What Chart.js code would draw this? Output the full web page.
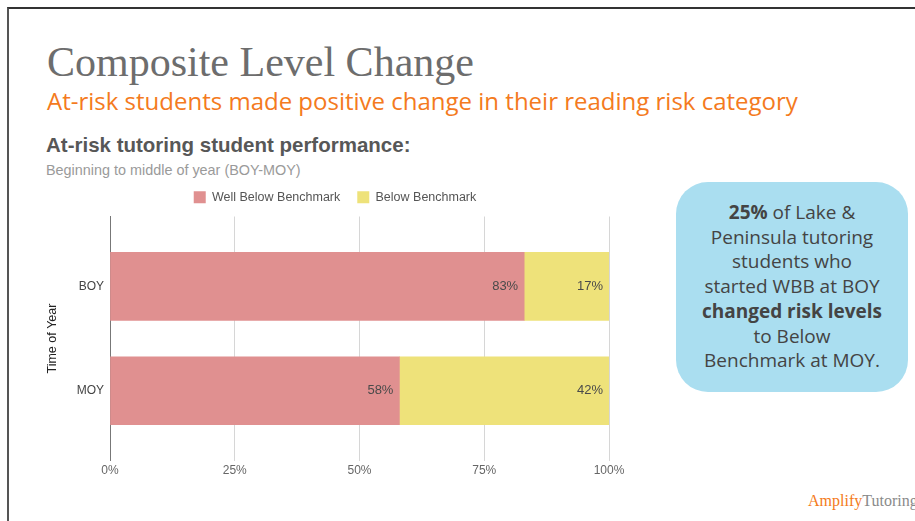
<!DOCTYPE html>
<html>
<head>
<meta charset="utf-8">
<script src="https://cdn.jsdelivr.net/npm/chart.js@4"></script>
<style>
  html, body { margin: 0; padding: 0; background: #fff; }
  body { width: 915px; height: 521px; position: relative; overflow: hidden; }
  .frame { position: absolute; left: 7px; top: 7px; width: 920px; height: 530px;
    border-left: 2px solid #555; border-top: 2px solid #333; }
  .title { position: absolute; left: 47px; top: 38px; font-family: "Liberation Serif", serif;
    font-size: 42px; color: #6d6d6d; white-space: nowrap; }
  .subtitle { position: absolute; left: 47px; top: 84px; font-family: "Open Sans", sans-serif;
    font-size: 24px; color: #f47a20; white-space: nowrap; }
  .chart-title { position: absolute; left: 46px; top: 133px; font-family: "Liberation Sans", Arial, sans-serif;
    font-size: 20.5px; font-weight: bold; color: #575757; white-space: nowrap; }
  .chart-sub { position: absolute; left: 46px; top: 162px; font-family: "Liberation Sans", Arial, sans-serif;
    font-size: 14.4px; color: #9a9a9a; white-space: nowrap; }
  .wrap { position: absolute; left: 41px; top: 171px; width: 598px; height: 310px; }
  .callout { position: absolute; left: 676px; top: 182px; width: 232px; height: 210px;
    background: #aadef0; border-radius: 32px; box-sizing: border-box; padding-top: 18px;
    font-family: "Open Sans", sans-serif; font-size: 19px; line-height: 24.7px;
    color: #444; text-align: center; }
  .brand { position: absolute; left: 808px; top: 492px; font-family: "Liberation Serif", serif;
    font-size: 16px; white-space: nowrap; }
  .brand .a { color: #f47a20; }
  .brand .t { color: #8a8a8a; }
</style>
</head>
<body>
<div class="frame"></div>
<div class="title">Composite Level Change</div>
<div class="subtitle">At-risk students made positive change in their reading risk category</div>
<div class="chart-title">At-risk tutoring student performance:</div>
<div class="chart-sub">Beginning to middle of year (BOY-MOY)</div>
<div class="wrap"><canvas id="chart"></canvas></div>
<div class="callout">
  <b>25%</b> of Lake &amp;<br>Peninsula tutoring<br>students who<br>started WBB at BOY<br><b>changed risk levels</b><br>to Below<br>Benchmark at MOY.
</div>
<div class="brand"><span class="a">Amplify</span><span class="t">Tutoring</span></div>

<script>
const periods = ["BOY", "MOY"];
const wellBelow = [83, 58];
const below = [17, 42];
const xTicks = [0, 25, 50, 75, 100];

// percent labels drawn inside the right end of each bar segment
const barLabels = {
  id: "barLabels",
  afterDatasetsDraw(chart) {
    const ctx = chart.ctx;
    ctx.save();
    ctx.font = "13px 'Liberation Sans', Arial, sans-serif";
    ctx.fillStyle = "#4a4a4a";
    ctx.textAlign = "right";
    ctx.textBaseline = "middle";
    chart.data.datasets.forEach((ds, di) => {
      chart.getDatasetMeta(di).data.forEach((bar, i) => {
        ctx.fillText(ds.data[i].x + "%", bar.x - 6, bar.y);
      });
    });
    ctx.restore();
  }
};

// a bit more room under the legend, and nudge it right
const legendGap = {
  id: "legendGap",
  afterInit(chart) {
    const fit = chart.legend.fit;
    chart.legend.fit = function () {
      fit.call(this);
      this.height += 3;
    };
  },
  afterLayout(chart) {
    chart.legend.left += 10;
    chart.legend.right += 10;
  }
};

new Chart(document.getElementById("chart"), {
  type: "bar",
  data: {
    datasets: [
      {
        label: "Well Below Benchmark",
        data: periods.map((p, i) => ({ x: wellBelow[i], y: i })),
        backgroundColor: "#e09090",
        barThickness: 68
      },
      {
        label: "Below Benchmark",
        data: periods.map((p, i) => ({ x: below[i], y: i })),
        backgroundColor: "#eee27a",
        barThickness: 68
      }
    ]
  },
  options: {
    indexAxis: "y",
    responsive: true,
    maintainAspectRatio: false,
    animation: false,
    layout: { padding: { top: 3, right: 30, bottom: 0, left: 0 } },
    scales: {
      x: {
        stacked: true,
        min: 0,
        max: 100,
        afterBuildTicks: s => { s.ticks = xTicks.map(v => ({ value: v })); },
        ticks: {
          callback: v => v + "%",
          color: "#666",
          font: { size: 12, family: "'Liberation Sans', Arial, sans-serif" },
          padding: 3
        },
        grid: { color: "#d6d6d6", drawTicks: false },
        border: { display: false }
      },
      y: {
        type: "linear",
        stacked: true,
        reverse: true,
        offset: false,
        min: -0.67,
        max: 1.67,
        afterBuildTicks: s => { s.ticks = periods.map((p, i) => ({ value: i })); },
        afterFit: s => { s.width = 69; },
        ticks: {
          callback: v => periods[v],
          color: "#444",
          font: { size: 12, family: "'Liberation Sans', Arial, sans-serif" },
          padding: 6
        },
        grid: { display: false, drawTicks: false, offset: false },
        border: { display: true, color: "#777", width: 1 },
        title: {
          display: true,
          text: "Time of Year",
          color: "#222",
          font: { size: 12.5, family: "'Liberation Sans', Arial, sans-serif" }
        }
      }
    },
    plugins: {
      legend: {
        labels: {
          boxWidth: 12,
          boxHeight: 12,
          padding: 17,
          color: "#555",
          font: { size: 12.5, family: "'Liberation Sans', Arial, sans-serif" }
        }
      },
      tooltip: { enabled: false }
    }
  },
  plugins: [barLabels, legendGap]
});
</script>
</body>
</html>
